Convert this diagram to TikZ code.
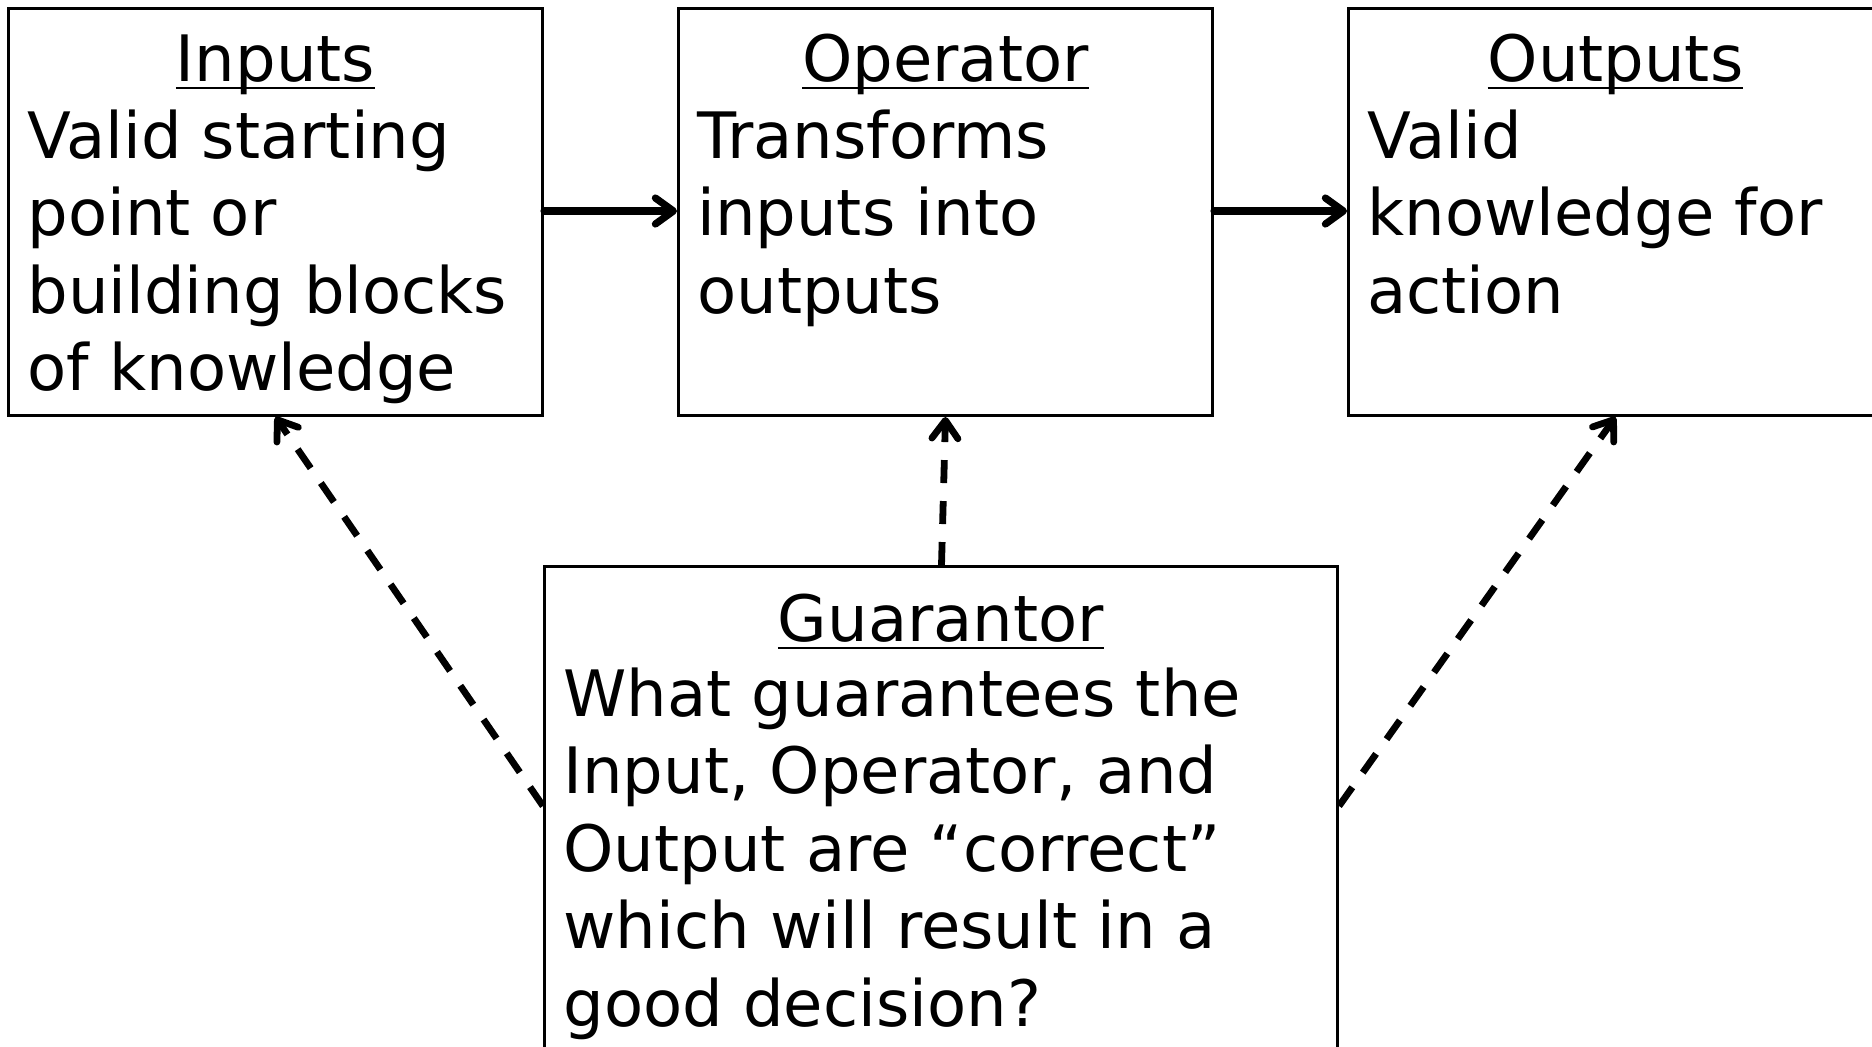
\documentclass[tikz,border=0pt]{standalone}
\usepackage{fontspec}
\setmainfont{DejaVu Sans}
\usetikzlibrary{arrows.meta,calc}

% heading with a rule through the descenders
\newcommand\hdrline[1]{\setbox0\hbox{#1}\rlap{\vrule width\wd0 height -2.9pt depth 4.2pt}\box0}
% body text whose baseline is its first line
\newcommand\bodytext[1]{\parbox[t]{250pt}{\raggedright\fontsize{32}{38.75}\selectfont #1}}

\tikzset{
  box/.style={draw, line width=1.5pt, rectangle, inner sep=0pt, anchor=north west,
              minimum width=267pt, minimum height=203.5pt},
  heading/.style={anchor=base, inner sep=0pt, font=\fontsize{32}{38.75}\selectfont},
  body/.style={anchor=base west, inner sep=0pt},
  flow/.style={line width=3.6pt, line cap=round,
               -{Straight Barb[length=9pt,width=13pt,round]}},
  check/.style={line width=3.4pt, dash pattern=on 11.5pt off 9pt,
               -{Straight Barb[length=9pt,width=13pt,round]}}
}

\begin{document}
\begin{tikzpicture}[x=0.5pt, y=-0.5pt]
\useasboundingbox (0,0) rectangle (1872,1046);
\clip (0,0) rectangle (1872,1046);

% the three stages of the chain
\node[box] (inp) at (7,7) {};
\node[box] (op)  at (677,7) {};
\node[box] (out) at (1347,7) {};
% the guarantor underneath
\node[box, minimum width=396.5pt, minimum height=300pt] (gua) at (543,565) {};

% headings
\node[heading] (inpT) at ($(inp.north)+(0,74)$) {\hdrline{Inputs}};
\node[heading] (opT)  at ($(op.north)+(0,74)$)  {\hdrline{Operator}};
\node[heading] (outT) at ($(out.north)+(0,74)$) {\hdrline{Outputs}};
\node[heading] (guaT) at ($(gua.north)+(0,76)$) {\hdrline{Guarantor}};

% descriptions
\node[body] (inpB) at ($(inp.north west)+(20,151)$)
  {\bodytext{Valid starting\\point or\\building blocks\\of knowledge}};
\node[body] (opB) at ($(op.north west)+(20,151)$)
  {\bodytext{Transforms\\inputs into\\outputs}};
\node[body] (outB) at ($(out.north west)+(20,151)$)
  {\bodytext{Valid\\knowledge for\\action}};
\node[body] (guaB) at ($(gua.north west)+(20,151)$)
  {\parbox[t]{380pt}{\raggedright\fontsize{32}{38.75}\selectfont
   What guarantees the\\Input, Operator, and\\Output are “correct”\\which will result in a\\good decision?}};

% main flow
\draw[flow] (inp.east |- 0,211) -- (op.west |- 0,211);
\draw[flow] (op.east |- 0,211) -- (out.west |- 0,211);

% guarantor links
\coordinate (gl) at ($(gua.north west)+(0,241)$);
\coordinate (gr) at ($(gua.north east)+(0,241)$);
\coordinate (gt) at ($(gua.north)+(0.5,0)$);
\draw[check] (gl) -- (inp.south);
\draw[check] (gt) -- (op.south);
\draw[check] (gr) -- (out.south);
\end{tikzpicture}
\end{document}
